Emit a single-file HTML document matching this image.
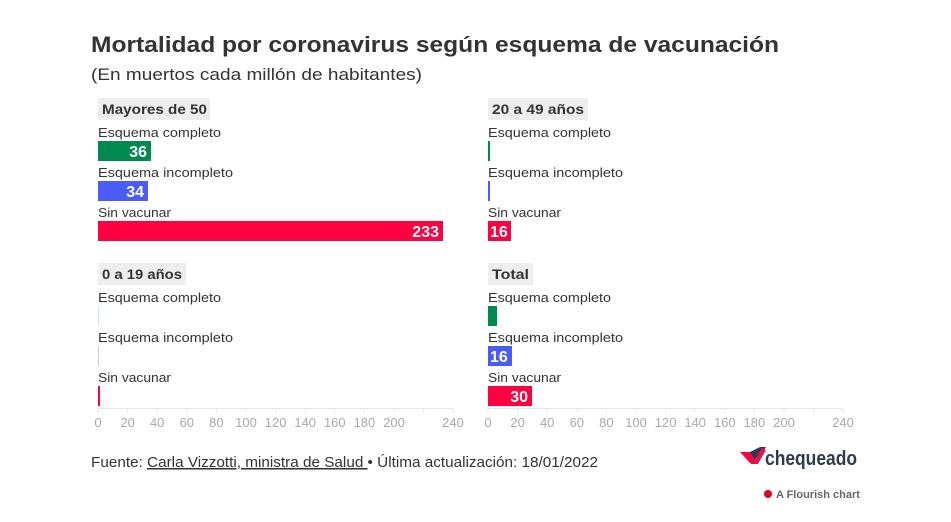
<!DOCTYPE html>
<html><head><meta charset="utf-8"><style>
body{margin:0;background:#fff;}
svg{display:block;font-family:"Liberation Sans",sans-serif;}
.lbl{font-size:13px;fill:#333;}
.val{font-size:16px;font-weight:bold;fill:#fff;}
.tick{font-size:13px;fill:#aaa;}
.pt{font-size:14px;font-weight:bold;fill:#333;}
</style></head><body>
<svg width="951" height="522" viewBox="0 0 951 522">
<text x="91" y="52" font-size="22" font-weight="bold" fill="#333" textLength="688" lengthAdjust="spacingAndGlyphs">Mortalidad por coronavirus según esquema de vacunación</text>
<text x="91" y="80" font-size="17" fill="#333" textLength="331" lengthAdjust="spacingAndGlyphs">(En muertos cada millón de habitantes)</text>

<!-- Panel 1 -->
<rect x="98" y="98" width="112" height="22" fill="#eee"/>
<text class="pt" x="102" y="114" textLength="105" lengthAdjust="spacingAndGlyphs">Mayores de 50</text>
<text class="lbl" x="98" y="137" textLength="123" lengthAdjust="spacingAndGlyphs">Esquema completo</text>
<rect x="98" y="141" width="53" height="20" fill="#008a50"/>
<text class="val" x="147" y="157" text-anchor="end">36</text>
<text class="lbl" x="98" y="177" textLength="135" lengthAdjust="spacingAndGlyphs">Esquema incompleto</text>
<rect x="98" y="181" width="50" height="20" fill="#4a5cf7"/>
<text class="val" x="144" y="197" text-anchor="end">34</text>
<text class="lbl" x="98" y="217" textLength="73" lengthAdjust="spacingAndGlyphs">Sin vacunar</text>
<rect x="98" y="221" width="345" height="20" fill="#ff0040"/>
<text class="val" x="439" y="237" text-anchor="end">233</text>

<!-- Panel 2 -->
<rect x="488" y="98" width="100" height="22" fill="#eee"/>
<text class="pt" x="492" y="114" textLength="92" lengthAdjust="spacingAndGlyphs">20 a 49 años</text>
<text class="lbl" x="488" y="137" textLength="123" lengthAdjust="spacingAndGlyphs">Esquema completo</text>
<rect x="488" y="141" width="2" height="20" fill="#008a50"/>
<text class="lbl" x="488" y="177" textLength="135" lengthAdjust="spacingAndGlyphs">Esquema incompleto</text>
<rect x="488" y="181" width="2" height="20" fill="#4a5cf7"/>
<text class="lbl" x="488" y="217" textLength="73" lengthAdjust="spacingAndGlyphs">Sin vacunar</text>
<rect x="488" y="221" width="23" height="20" fill="#ff0040"/>
<text class="val" x="490" y="237">16</text>

<!-- Panel 3 -->
<rect x="98" y="263" width="88" height="22" fill="#eee"/>
<text class="pt" x="102" y="279" textLength="80" lengthAdjust="spacingAndGlyphs">0 a 19 años</text>
<text class="lbl" x="98" y="302" textLength="123" lengthAdjust="spacingAndGlyphs">Esquema completo</text>
<rect x="98" y="306" width="1" height="20" fill="#cfe9dd"/>
<text class="lbl" x="98" y="342" textLength="135" lengthAdjust="spacingAndGlyphs">Esquema incompleto</text>
<rect x="98" y="346" width="1" height="20" fill="#c5cbfb"/>
<text class="lbl" x="98" y="382" textLength="73" lengthAdjust="spacingAndGlyphs">Sin vacunar</text>
<rect x="98" y="386" width="2" height="20" fill="#ff0040"/>

<!-- Panel 4 -->
<rect x="488" y="263" width="45" height="22" fill="#eee"/>
<text class="pt" x="492" y="279" textLength="37" lengthAdjust="spacingAndGlyphs">Total</text>
<text class="lbl" x="488" y="302" textLength="123" lengthAdjust="spacingAndGlyphs">Esquema completo</text>
<rect x="488" y="306" width="9" height="20" fill="#008a50"/>
<text class="lbl" x="488" y="342" textLength="135" lengthAdjust="spacingAndGlyphs">Esquema incompleto</text>
<rect x="488" y="346" width="24" height="20" fill="#4a5cf7"/>
<text class="val" x="490" y="362">16</text>
<text class="lbl" x="488" y="382" textLength="73" lengthAdjust="spacingAndGlyphs">Sin vacunar</text>
<rect x="488" y="386" width="44" height="20" fill="#ff0040"/>
<text class="val" x="528" y="402" text-anchor="end">30</text>

<!-- Axes -->
<g stroke="#e6e6e6" stroke-width="1">
<line x1="98" y1="408.5" x2="453" y2="408.5"/>
<line x1="488" y1="408.5" x2="843" y2="408.5"/>
<path d="M98 408v5M127.6 408v5M157.2 408v5M186.8 408v5M216.4 408v5M246 408v5M275.6 408v5M305.2 408v5M334.8 408v5M364.4 408v5M394 408v5M423.6 408v5M453 408v5"/>
<path d="M488 408v5M517.6 408v5M547.2 408v5M576.8 408v5M606.4 408v5M636 408v5M665.6 408v5M695.2 408v5M724.8 408v5M754.4 408v5M784 408v5M813.6 408v5M843 408v5"/>
</g>
<g class="tick" text-anchor="middle">
<text x="98" y="427">0</text><text x="127.6" y="427">20</text><text x="157.2" y="427">40</text><text x="186.8" y="427">60</text><text x="216.4" y="427">80</text><text x="246" y="427">100</text><text x="275.6" y="427">120</text><text x="305.2" y="427">140</text><text x="334.8" y="427">160</text><text x="364.4" y="427">180</text><text x="394" y="427">200</text><text x="453" y="427">240</text>
<text x="488" y="427">0</text><text x="517.6" y="427">20</text><text x="547.2" y="427">40</text><text x="576.8" y="427">60</text><text x="606.4" y="427">80</text><text x="636" y="427">100</text><text x="665.6" y="427">120</text><text x="695.2" y="427">140</text><text x="724.8" y="427">160</text><text x="754.4" y="427">180</text><text x="784" y="427">200</text><text x="843" y="427">240</text>
</g>

<text x="91" y="467" font-size="15" fill="#333" textLength="507" lengthAdjust="spacingAndGlyphs">Fuente: <tspan text-decoration="underline">Carla Vizzotti, ministra de Salud </tspan>• Última actualización: 18/01/2022</text>

<!-- logo -->
<polygon points="740,452 752,452 757,462 751,464" fill="#ff0040"/>
<polygon points="750,452 756,462 766,447 760,447" fill="#2f3a4f"/>
<polygon points="752,464 758,464 766,450 762,448" fill="#e0154f"/>
<text x="765" y="465" font-size="20" font-weight="bold" fill="#2f3a4f" textLength="92" lengthAdjust="spacingAndGlyphs">chequeado</text>
<circle cx="768" cy="494" r="4" fill="#e6001e"/>
<text x="776" y="498" font-size="11" font-weight="bold" fill="#666">A Flourish chart</text>
</svg>
</body></html>
